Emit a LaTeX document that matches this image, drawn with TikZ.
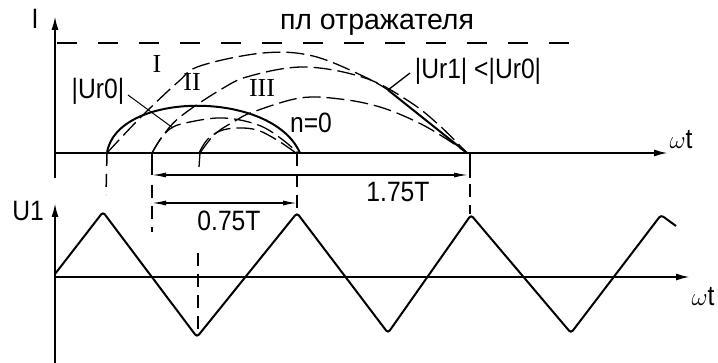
\documentclass[tikz,border=0pt]{standalone}
\usepackage{fontspec}
\setmainfont{Liberation Sans}
\newfontfamily\narrowfont[FakeStretch=0.88]{Liberation Sans}
\newfontfamily\seriffont{Liberation Serif}
\usetikzlibrary{arrows.meta}
\begin{document}
\begin{tikzpicture}[x=1pt,y=-1pt,
  axisline/.style={line width=2pt,-{Latex[length=14pt,width=7pt]}},
  wave/.style={line width=2pt,rounded corners=3pt},
  guide/.style={line width=1.5pt,dash pattern=on 13pt off 8pt},
  topdash/.style={line width=1.5pt,dash pattern=on 20pt off 21pt},
  dim/.style={line width=1.3pt,{Latex[length=14pt,width=5pt]}-{Latex[length=14pt,width=5pt]}},
  trajs/.style={line width=2pt},
  trajd/.style={line width=1.3pt,dash pattern=on 18pt off 6pt},
  lbl/.style={font=\narrowfont\fontsize{28}{28}\selectfont,inner sep=0pt},
  cyr/.style={font=\fontsize{28.5}{28.5}\selectfont,inner sep=0pt},
  roman/.style={font=\seriffont\fontsize{26}{26}\selectfont,inner sep=0pt}]
\useasboundingbox (0,0) rectangle (718,363);
% axes
\coordinate (v1b) at (55,178); \coordinate (v1t) at (55,16);
\coordinate (h1a) at (55,153); \coordinate (h1b) at (668,153);
\coordinate (v2b) at (55,363); \coordinate (v2t) at (55,203);
\coordinate (h2a) at (55,277); \coordinate (h2b) at (690,277);
\draw[axisline] (v1b) -- (v1t);
\draw[axisline] (h1a) -- (h1b);
\draw[axisline] (v2b) -- (v2t);
\draw[axisline] (h2a) -- (h2b);
% reflector plane
\coordinate (r1) at (57,43); \coordinate (r2) at (585,43);
\draw[topdash] (r1) -- (r2);
% labels
\node[lbl] (lI) at (35,19) {I};
\node[lbl] (lU1) at (28,211) {U1};
\node[lbl] (lwt1) at (681,140) {$\omega$t};
\node[lbl] (lwt2) at (703,297) {$\omega$t};
\node[cyr] (lrefl) at (377,25) {пл отражателя};
\node[lbl] (lur0) at (98,91) {|Ur0|};
\node[lbl] (lur1) at (478,71) {|Ur1| <|Ur0|};
\node[lbl] (ln0) at (311,123) {n=0};
\node[lbl] (l075) at (229,221) {0.75T};
\node[lbl] (l175) at (398,192) {1.75T};
\node[roman] (rI) at (157,64) {I};
\node[roman] (rII) at (192,82) {II};
\node[roman] (rIII) at (262,88) {III};
% trajectories, group n=0
\draw[trajs] (107,153) .. controls (116,91) and (272,89) .. (300,153);
\draw[trajd] plot[smooth,tension=0.6] coordinates {(152,153) (162,137) (173,127) (190,122) (217,118) (240,120) (263,127) (283,140) (298,153)};
\draw[trajd] plot[smooth,tension=0.6] coordinates {(199,153) (207,140) (220,131) (237,128) (257,130) (277,140) (296,153)};
\draw[line width=1.3pt] (200,153) -- (199,167);
% trajectories, group converging at 1.75T
\draw[trajd] plot[smooth,tension=0.6] coordinates {(107,153) (140,118) (178,82) (200,66) (263,53) (313,56) (365,77) (388,90)};
\draw[trajs] (388,90) -- (467,153);
\draw[trajd] plot[smooth,tension=0.6] coordinates {(152,153) (162,137) (180,117) (220,90) (250,76) (305,67) (365,78) (410,102) (440,126) (467,153)};
\draw[trajd] plot[smooth,tension=0.6] coordinates {(200,153) (215,134) (235,121) (253,112) (300,98) (340,99) (380,107) (417,122) (445,138) (467,153)};
% leaders
\coordinate (ld1) at (128,95); \coordinate (ld2) at (173,128);
\draw[line width=1pt] (ld1) -- (ld2);
\coordinate (ld3) at (388,90); \coordinate (ld4) at (410,73);
\draw[line width=1.3pt] (ld3) -- (ld4);
% projections
\draw[guide] (107,153) -- (106,195);
\draw[line width=1.5pt] (152,153) -- (152,175);
\draw[guide] (152,185) -- (152,232);
\draw[guide] (198,253) -- (198,334);
\draw[guide] (297,153) -- (297,212);
\draw[line width=1.5pt] (470,153) -- (470,178);
\draw[guide] (470,184) -- (470,214);
% dimensions
\coordinate (d1a) at (152,175); \coordinate (d1b) at (468,175);
\coordinate (d2a) at (152,203); \coordinate (d2b) at (297,203);
\draw[dim] (d1a) -- (d1b);
\draw[dim] (d2a) -- (d2b);
% U1 wave
\draw[wave] (55,274) -- (103,212) -- (197,337) -- (297,213) -- (388,333) -- (471,215) -- (571,333) -- (661,215) -- (676,226);
\end{tikzpicture}
\end{document}
